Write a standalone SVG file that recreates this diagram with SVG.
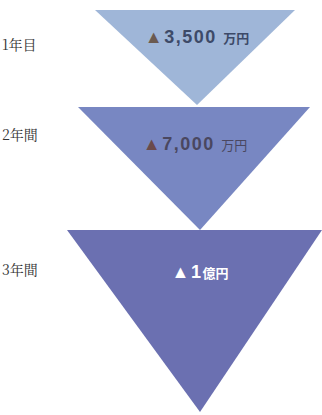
<svg xmlns="http://www.w3.org/2000/svg" width="322" height="415" viewBox="0 0 322 415">
<style>
.lbl{font-family:"Noto Serif CJK JP","Liberation Serif","Noto Sans CJK JP",serif;font-size:14px;fill:#333}
.val{font-family:"Liberation Sans","Noto Sans CJK JP",sans-serif;font-weight:bold;font-size:18px;text-anchor:middle;letter-spacing:1.5px}
.unit{font-size:13px;letter-spacing:0}
.tri{stroke:none}
</style>
<rect width="322" height="415" fill="#ffffff"/>
<g id="step3">
<polygon class="tri" points="67,230 322,230 200,412" fill="#6b70b1"/>
<text class="lbl" x="2" y="275">3年間</text>
<text class="val" x="200" y="278" fill="#ffffff">▲1<tspan class="unit" font-size="15">億円</tspan></text>
</g>
<g id="step2">
<polygon class="tri" points="78,107 310,107 200,230" fill="#7887c2"/>
<text class="lbl" x="2" y="140">2年間</text>
<text class="val" x="195" y="150" fill="#4a4760"><tspan fill="#6b4a4a">▲</tspan>7,000 <tspan class="unit" font-weight="normal">万円</tspan></text>
</g>
<g id="step1">
<polygon class="tri" points="95,10 295,10 197,105" fill="#9fb6d8"/>
<text class="lbl" x="2" y="50">1年目</text>
<text class="val" x="197" y="43" fill="#3d4a68"><tspan fill="#6b5a50">▲</tspan>3,500 <tspan class="unit">万円</tspan></text>
</g>
</svg>
